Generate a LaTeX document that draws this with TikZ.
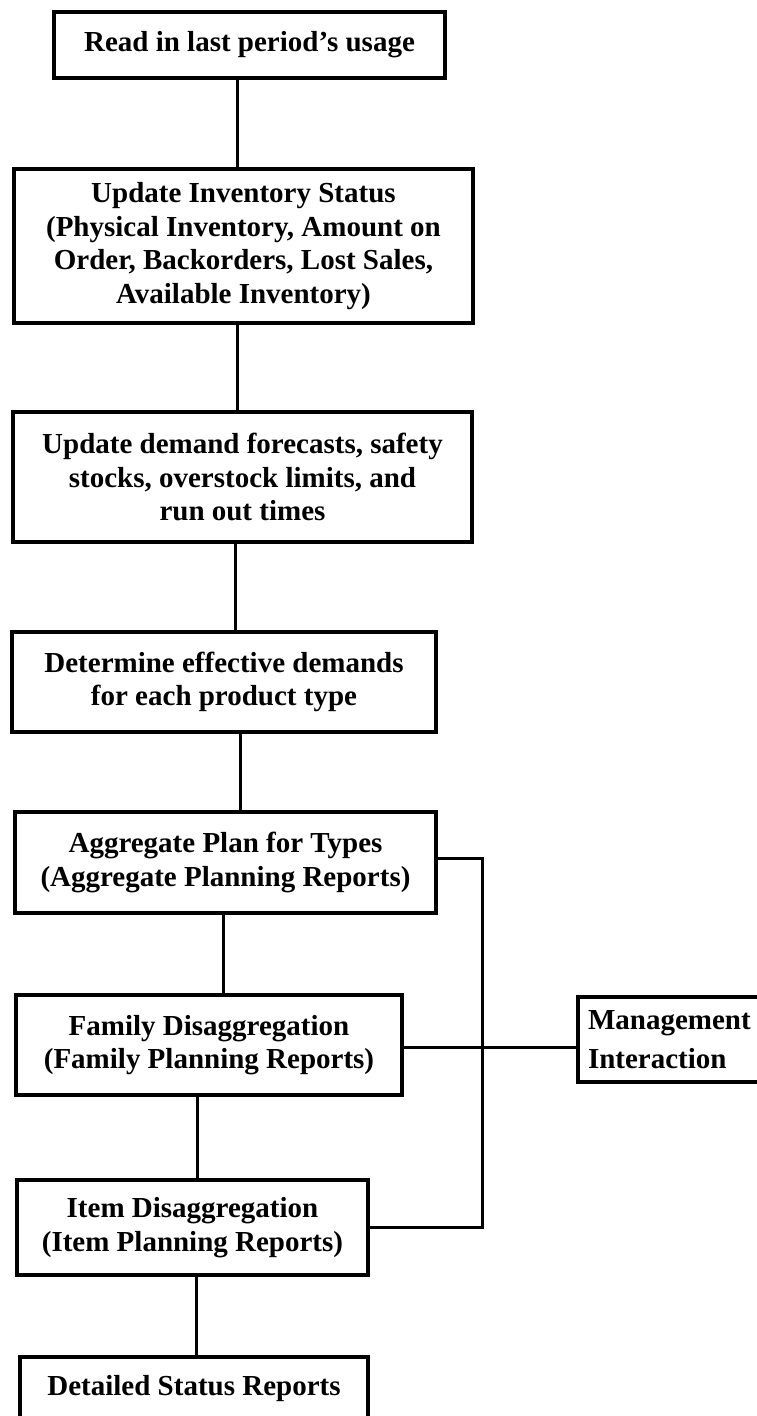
\documentclass[tikz,border=0pt]{standalone}
\usepackage{fontspec}
\setmainfont{Liberation Serif}
\begin{document}
\begin{tikzpicture}[x=1pt,y=-1pt,
  box/.style={draw=black, line width=3.4pt, fill=white, align=center, inner sep=0pt,
    font=\fontsize{29}{33.5}\selectfont\bfseries},
  conn/.style={draw=black, line width=3pt}]
\useasboundingbox (0,0) rectangle (757,1416);
\fill[white] (0,0) rectangle (757,1416);
\clip (0,0) rectangle (757,1416);

\node[box, minimum width=391pt, minimum height=66pt] (b1) at (249.5,45) {Read in last period’s usage};
\node[box, minimum width=459pt, minimum height=154pt] (b2) at (243.5,246)
  {Update Inventory Status\\(Physical Inventory, Amount on\\Order, Backorders, Lost Sales,\\Available Inventory)};
\node[box, minimum width=459pt, minimum height=130pt] (b3) at (242.5,477)
  {Update demand forecasts, safety\\stocks, overstock limits, and\\run out times};
\node[box, minimum width=424pt, minimum height=100pt] (b4) at (224,682)
  {Determine effective demands\\for each product type};
\node[box, minimum width=421pt, minimum height=101pt] (b5) at (225.5,862.5)
  {Aggregate Plan for Types\\(Aggregate Planning Reports)};
\node[box, minimum width=386pt, minimum height=100pt] (b6) at (209,1045)
  {Family Disaggregation\\(Family Planning Reports)};
\node[box, minimum width=351pt, minimum height=95pt] (b7) at (192.5,1227.5)
  {Item Disaggregation\\(Item Planning Reports)};
\node[box, minimum width=348pt, minimum height=64pt] (b8) at (194,1389)
  {Detailed Status Reports};
\node[box, align=left, minimum width=222pt, minimum height=85pt, text width=202pt, inner xsep=10pt] (mg) at (689,1039.5)
  {Management\\[5pt]Interaction};

\coordinate (rail) at (482,858);

\draw[conn] ([xshift=-12.5pt]b1.south) -- ([xshift=-12.5pt]b1.south |- b2.north);
\draw[conn] ([xshift=-6.5pt]b2.south) -- ([xshift=-6.5pt]b2.south |- b3.north);
\draw[conn] ([xshift=-7.5pt]b3.south) -- ([xshift=-7.5pt]b3.south |- b4.north);
\draw[conn] ([xshift=16pt]b4.south) -- ([xshift=16pt]b4.south |- b5.north);
\draw[conn] ([xshift=-2.5pt]b5.south) -- ([xshift=-2.5pt]b5.south |- b6.north);
\draw[conn] ([xshift=-12pt]b6.south) -- ([xshift=-12pt]b6.south |- b7.north);
\draw[conn] ([xshift=3.5pt]b7.south) -- ([xshift=3.5pt]b7.south |- b8.north);
\draw[conn] (b5.east |- rail) -- (rail) -- (rail |- b7.east) -- (b7.east);
\draw[conn] ([yshift=-2pt]b6.east) -- ([yshift=-2pt]b6.east -| mg.west);
\end{tikzpicture}
\end{document}
